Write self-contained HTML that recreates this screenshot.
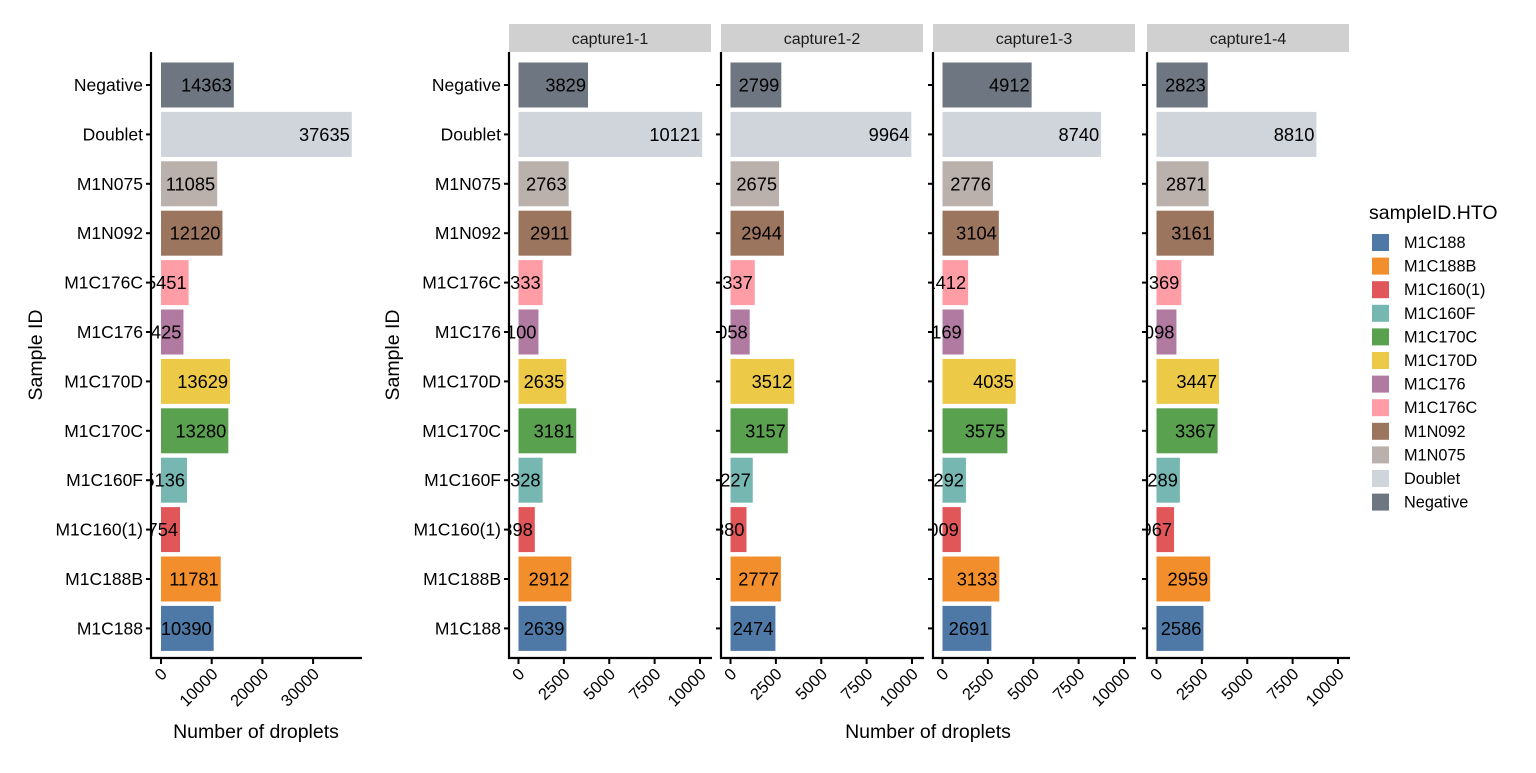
<!DOCTYPE html>
<html><head><meta charset="utf-8"><style>
body{margin:0;background:#fff;}
svg text{font-family:"Liberation Sans",Arial,sans-serif;}
</style></head><body>
<svg id="chart" width="1536" height="768" viewBox="0 0 1536 768" xmlns="http://www.w3.org/2000/svg"></svg>
<script>
const categories = ["Negative","Doublet","M1N075","M1N092","M1C176C","M1C176","M1C170D","M1C170C","M1C160F","M1C160(1)","M1C188B","M1C188"];
const totals = [14363,37635,11085,12120,5451,4425,13629,13280,5136,3754,11781,10390];
const capture1 = [3829,10121,2763,2911,1333,1100,2635,3181,1328,898,2912,2639];
const capture2 = [2799,9964,2675,2944,1337,1058,3512,3157,1227,880,2777,2474];
const capture3 = [4912,8740,2776,3104,1412,1169,4035,3575,1292,1009,3133,2691];
const capture4 = [2823,8810,2871,3161,1369,1098,3447,3367,1289,967,2959,2586];
const facetNames = ["capture1-1","capture1-2","capture1-3","capture1-4"];
const totalTicks = [0,10000,20000,30000];
const facetTicks = [0,2500,5000,7500,10000];
const legendOrder = ["M1C188","M1C188B","M1C160(1)","M1C160F","M1C170C","M1C170D","M1C176","M1C176C","M1N092","M1N075","Doublet","Negative"];
const colors = {"M1C188":"#4e79a7","M1C188B":"#f28e2b","M1C160(1)":"#e15759","M1C160F":"#76b7b2","M1C170C":"#59a14f","M1C170D":"#edc948","M1C176":"#b07aa1","M1C176C":"#ff9da7","M1N092":"#9c755f","M1N075":"#bab0ac","Doublet":"#d0d5dc","Negative":"#6e7681"};

const svg = document.getElementById('chart');
const NS = 'http://www.w3.org/2000/svg';
function mk(tag, attrs, parent){const e=document.createElementNS(NS,tag);for(const k in attrs)e.setAttribute(k,attrs[k]);(parent||svg).appendChild(e);return e;}
const yTop=52, yBot=658;
function yScale(i){return 85 + i*49.4;}
const barH=45;
let clipId=0;

function panel(left,right,zero,pxPerUnit,values,ticks,showY,name){
  const x = v => zero + v*pxPerUnit;
  const g = mk('g',{});
  
  
  const cid='clip'+(clipId++);
  const cp=mk('clipPath',{id:cid},g); mk('rect',{x:left,y:yTop,width:right-left,height:yBot-yTop},cp);
  const inner=mk('g',{'clip-path':'url(#'+cid+')'},g);
  categories.forEach((c,i)=>{
    const r=mk('rect',{x:x(0),y:yScale(i)-barH/2,width:x(values[i])-x(0),height:barH,fill:colors[c]},inner);
    
    
    const t=mk('text',{x:x(values[i])-2,y:yScale(i)+6.5,'text-anchor':'end','font-size':18.3,fill:'#000'},inner);
    t.textContent=values[i];
    
    
  });
  mk('line',{x1:left,y1:yTop,x2:left,y2:yBot+1,stroke:'#000','stroke-width':2.2},g);
  mk('line',{x1:left-1,y1:yBot,x2:right,y2:yBot,stroke:'#000','stroke-width':2.2},g);
  categories.forEach((c,i)=>{
    mk('line',{x1:left-5,y1:yScale(i),x2:left,y2:yScale(i),stroke:'#000','stroke-width':2},g);
    if(showY){
      const t=mk('text',{x:left-8,y:yScale(i)+6,'text-anchor':'end','font-size':17.5,fill:'#000'},g);
      t.textContent=c;
      
      
    }
  });
  ticks.forEach(v=>{
    mk('line',{x1:x(v),y1:yBot,x2:x(v),y2:yBot+6,stroke:'#000','stroke-width':2},g);
    const ax=x(v)+7, ay=yBot+17;
    const t=mk('text',{x:ax,y:ay,'text-anchor':'end','font-size':16.5,fill:'#000',transform:`rotate(-45 ${ax} ${ay})`},g);
    t.textContent=v;
    
    
  });
}

panel(151,362,161,5.07/1000,totals,totalTicks,true,'total-panel');
const facetData=[capture1,capture2,capture3,capture4];
const facetLefts=[509,721,933,1147];
facetLefts.forEach((l,k)=>{
  const s=mk('rect',{x:l,y:24,width:202,height:28,fill:'#d0d0d0'});
  
  
  const st=mk('text',{x:l+101,y:44,'text-anchor':'middle','font-size':16,fill:'#1a1a1a'});
  st.textContent=facetNames[k];
  
  
  panel(l,l+203,l+9.5,0.01815,facetData[k],facetTicks,k===0,'facet-'+facetNames[k]);
});

function title(txt,x,y,rot,name){
  const t=mk('text',{x:x,y:y,'text-anchor':'middle','font-size':19.5,fill:'#000'});
  if(rot)t.setAttribute('transform',`rotate(-90 ${x} ${y})`);
  t.textContent=txt;
  
  
}
title('Sample ID',42,355,true,'y-axis-title');
title('Sample ID',399,355,true,'y-axis-title-facets');
title('Number of droplets',256,738,false,'x-axis-title');
title('Number of droplets',928,738,false,'x-axis-title-facets');

const lt=mk('text',{x:1369,y:219,'font-size':19.5,fill:'#000'});
lt.textContent='sampleID.HTO';


legendOrder.forEach((c,i)=>{
  const y=234+i*23.6;
  const r=mk('rect',{x:1372,y:y,width:17,height:17,fill:colors[c]});
  
  
  const t=mk('text',{x:1404,y:y+14,'font-size':16.3,fill:'#000'});
  t.textContent=c;
  
  
});
</script>
</body></html>
